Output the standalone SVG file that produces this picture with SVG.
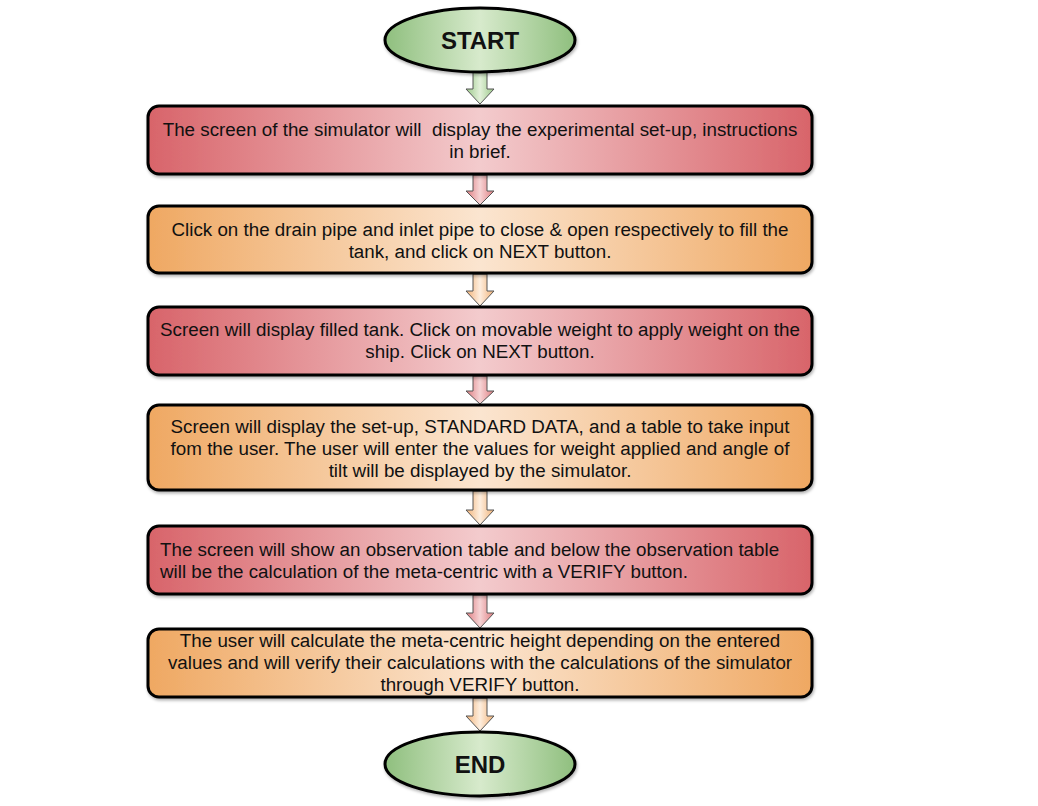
<svg xmlns="http://www.w3.org/2000/svg" width="1038" height="806" viewBox="0 0 1038 806">
  <style>
    .box { stroke: #000; stroke-width: 3; }
    .term { stroke: #000; stroke-width: 3; }
    .arr { stroke: #555; stroke-width: 1; }
    text { font-family: "Liberation Sans", Arial, sans-serif; font-size: 18.8px; fill: #111; }
    .mid { text-anchor: middle; }
    .big { font-size: 24px; font-weight: bold; text-anchor: middle; }
  </style>
  <defs>
    <linearGradient id="gRed" x1="0" y1="0" x2="1" y2="0">
      <stop offset="0" stop-color="#d8646a"/>
      <stop offset="0.5" stop-color="#f3cbcd"/>
      <stop offset="1" stop-color="#d8646a"/>
    </linearGradient>
    <linearGradient id="gOrange" x1="0" y1="0" x2="1" y2="0">
      <stop offset="0" stop-color="#efa862"/>
      <stop offset="0.5" stop-color="#fbe5d0"/>
      <stop offset="1" stop-color="#efa862"/>
    </linearGradient>
    <linearGradient id="gGreen" x1="0" y1="0" x2="1" y2="0">
      <stop offset="0" stop-color="#8fbf7e"/>
      <stop offset="0.5" stop-color="#d7eacc"/>
      <stop offset="1" stop-color="#8fbf7e"/>
    </linearGradient>
    <linearGradient id="aGreen" x1="0" y1="0" x2="1" y2="0">
      <stop offset="0" stop-color="#9cc98a"/>
      <stop offset="0.5" stop-color="#e2f0d9"/>
      <stop offset="1" stop-color="#9cc98a"/>
    </linearGradient>
    <linearGradient id="aRed" x1="0" y1="0" x2="1" y2="0">
      <stop offset="0" stop-color="#df7c80"/>
      <stop offset="0.5" stop-color="#f6d4d5"/>
      <stop offset="1" stop-color="#df7c80"/>
    </linearGradient>
    <linearGradient id="aOrange" x1="0" y1="0" x2="1" y2="0">
      <stop offset="0" stop-color="#f2b276"/>
      <stop offset="0.5" stop-color="#fdeedf"/>
      <stop offset="1" stop-color="#f2b276"/>
    </linearGradient>
    <filter id="sh" x="-5%" y="-5%" width="110%" height="120%">
      <feDropShadow dx="1" dy="2" stdDeviation="1.5" flood-color="#000" flood-opacity="0.3"/>
    </filter>
  </defs>

  <!-- block arrows between steps -->
  <g id="connectors">
    <path class="arr" fill="url(#aGreen)" d="M473,72 H487 V89 H494 L480,104 L466,89 H473 Z"/>
    <path class="arr" fill="url(#aRed)" d="M473,175 H487 V191 H494 L480,205 L466,191 H473 Z"/>
    <path class="arr" fill="url(#aOrange)" d="M473,274 H487 V291 H494 L480,306 L466,291 H473 Z"/>
    <path class="arr" fill="url(#aRed)" d="M473,376 H487 V391 H494 L480,404 L466,391 H473 Z"/>
    <path class="arr" fill="url(#aOrange)" d="M473,491 H487 V510 H494 L480,525 L466,510 H473 Z"/>
    <path class="arr" fill="url(#aRed)" d="M473,595 H487 V613 H494 L480,628 L466,613 H473 Z"/>
    <path class="arr" fill="url(#aOrange)" d="M473,698 H487 V716 H494 L480,731 L466,716 H473 Z"/>
  </g>

  <g id="start">
    <ellipse class="term" cx="480" cy="40" rx="95" ry="32" fill="url(#gGreen)" filter="url(#sh)"/>
    <text class="big" x="480" y="49">START</text>
  </g>

  <g id="step1">
    <rect class="box" x="148" y="106" width="664" height="68" rx="11" fill="url(#gRed)" filter="url(#sh)"/>
    <text class="mid" x="480" y="136" xml:space="preserve">The screen of the simulator will  display the experimental set-up, instructions</text>
    <text class="mid" x="480" y="158">in brief.</text>
  </g>

  <g id="step2">
    <rect class="box" x="148" y="206" width="664" height="67" rx="11" fill="url(#gOrange)" filter="url(#sh)"/>
    <text class="mid" x="480" y="236">Click on the drain pipe and inlet pipe to close &amp; open respectively to fill the</text>
    <text class="mid" x="480" y="258">tank, and click on NEXT button.</text>
  </g>

  <g id="step3">
    <rect class="box" x="148" y="307" width="664" height="68" rx="11" fill="url(#gRed)" filter="url(#sh)"/>
    <text class="mid" x="480" y="336">Screen will display filled tank. Click on movable weight to apply weight on the</text>
    <text class="mid" x="480" y="358">ship. Click on NEXT button.</text>
  </g>

  <g id="step4">
    <rect class="box" x="148" y="405" width="664" height="85" rx="11" fill="url(#gOrange)" filter="url(#sh)"/>
    <text class="mid" x="480" y="433">Screen will display the set-up, STANDARD DATA, and a table to take input</text>
    <text class="mid" x="480" y="455">fom the user. The user will enter the values for weight applied and angle of</text>
    <text class="mid" x="480" y="477">tilt will be displayed by the simulator.</text>
  </g>

  <g id="step5">
    <rect class="box" x="148" y="526" width="664" height="68" rx="11" fill="url(#gRed)" filter="url(#sh)"/>
    <text x="160" y="556">The screen will show an observation table and below the observation table</text>
    <text x="160" y="578">will be the calculation of the meta-centric with a VERIFY button.</text>
  </g>

  <g id="step6">
    <rect class="box" x="148" y="629" width="664" height="68" rx="11" fill="url(#gOrange)" filter="url(#sh)"/>
    <text class="mid" x="480" y="647">The user will calculate the meta-centric height depending on the entered</text>
    <text class="mid" x="480" y="669">values and will verify their calculations with the calculations of the simulator</text>
    <text class="mid" x="480" y="691">through VERIFY button.</text>
  </g>

  <g id="end">
    <ellipse class="term" cx="480" cy="764" rx="95" ry="32" fill="url(#gGreen)" filter="url(#sh)"/>
    <text class="big" x="480" y="773">END</text>
  </g>
</svg>
